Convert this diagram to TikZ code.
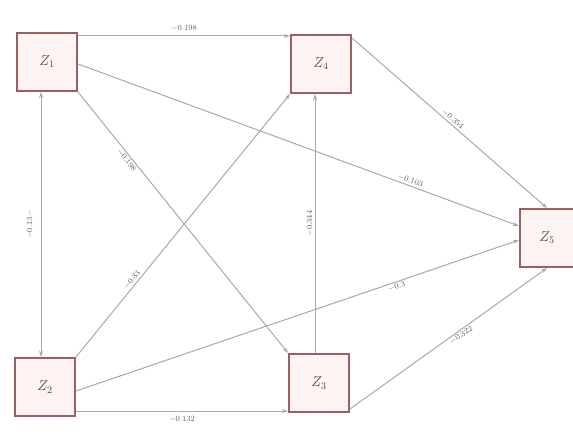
\documentclass[tikz,border=0pt]{standalone}
\usetikzlibrary{arrows.meta}
\begin{document}
\begin{tikzpicture}[x=1pt,y=-1pt,
  zbox/.style={draw={rgb,255:red,155;green,95;blue,95}, line width=2pt, fill={rgb,255:red,253;green,243;blue,243}, minimum width=60pt, minimum height=58pt, inner sep=0pt, font=\Large, text={rgb,255:red,70;green,70;blue,70}},
  conn/.style={draw={rgb,255:red,160;green,172;blue,172}, line width=1pt, -{Stealth[length=6pt,width=4pt]}},
  lab/.style={font=\footnotesize, text={rgb,255:red,90;green,90;blue,90}, inner sep=1.5pt}]
\useasboundingbox (0,0) rectangle (573,438);
\node[zbox] (Z1) at (47,62) {$Z_1$};
\node[zbox] (Z4) at (321,64) {$Z_4$};
\node[zbox] (Z2) at (45,387) {$Z_2$};
\node[zbox] (Z3) at (319,383) {$Z_3$};
\node[zbox, minimum width=54pt] (Z5) at (547,238) {$Z_5$};
\coordinate (a1) at ([yshift=-4pt]Z1.north east);
\coordinate (b1) at ([yshift=6pt]Z2.south east);
% edges
\draw[conn] (a1) -- node[lab, above=3pt] {$-0.198$} (a1 -| Z4.west);
\draw[conn] ([yshift=-2pt]Z1.east) -- node[lab, above, sloped, pos=0.75] {$-0.103$} ([yshift=12pt]Z5.west);
\draw[conn] (Z1.south east) -- node[lab, below, sloped, pos=0.25] {$-0.198$} (Z3.north west);
\draw[conn] (Z2.north east) -- node[lab, above, sloped, pos=0.28] {$-0.33$} (Z4.south west);
\draw[conn] ([yshift=-4pt]Z2.east) -- node[lab, below, sloped, pos=0.72] {$-0.3$} ([yshift=-2pt]Z5.west);
\draw[conn] (b1) -- node[lab, below=3pt] {$-0.132$} (b1 -| Z3.west);
\draw[conn] ([xshift=-4pt]Z3.north) -- node[lab, above, sloped, pos=0.5] {$-0.344$} ([xshift=-6pt]Z4.south);
\draw[conn] ([yshift=4pt]Z3.south east) -- node[lab, below, sloped, pos=0.55] {$-0.322$} (Z5.south);
\draw[conn] ([yshift=-4pt]Z4.north east) -- node[lab, above, sloped, pos=0.5] {$-0.354$} (Z5.north);
\draw[conn, {Stealth[length=6pt,width=4pt]}-{Stealth[length=6pt,width=4pt]}] ([xshift=-6pt]Z1.south) -- node[lab, rotate=90, anchor=south, yshift=6pt] {$-0.13-$} ([xshift=-4pt]Z2.north);
\end{tikzpicture}
\end{document}
